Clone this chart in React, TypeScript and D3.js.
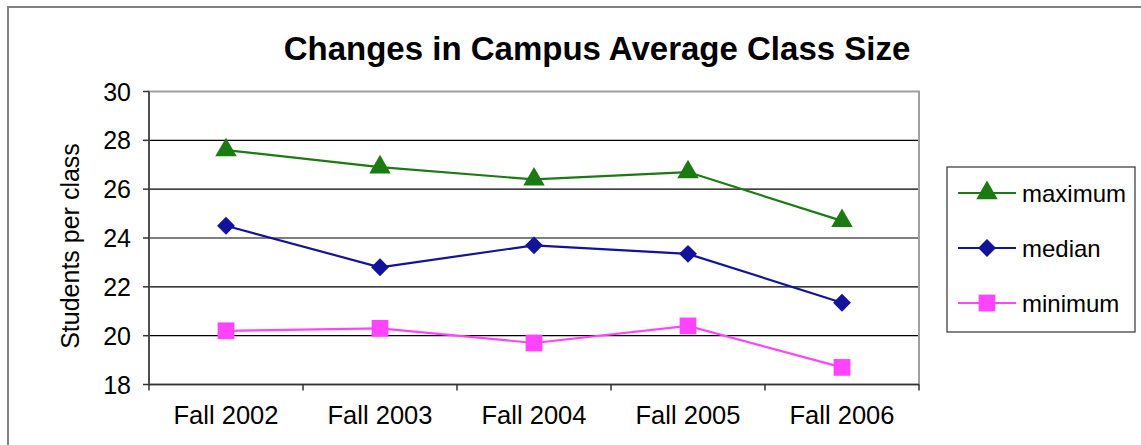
import * as d3 from "d3";

const categories = ["Fall 2002", "Fall 2003", "Fall 2004", "Fall 2005", "Fall 2006"];
const maximum = [27.6, 26.9, 26.4, 26.7, 24.7];
const median = [24.5, 22.8, 23.7, 23.35, 21.35];
const minimum = [20.2, 20.3, 19.7, 20.4, 18.7];
const yTicks = [18, 20, 22, 24, 26, 28, 30];

const seriesList = [
  { name: "maximum", values: maximum, color: "#1b7a12", symbol: d3.symbolTriangle, size: 200, rot: 0 },
  { name: "median", values: median, color: "#12129a", symbol: d3.symbolSquare, size: 160, rot: 45 },
  { name: "minimum", values: minimum, color: "#ff44ff", symbol: d3.symbolSquare, size: 280, rot: 0 }
];

export default function App() {
  const width = 1141;
  const height = 445;
  const left = 149;
  const right = 919;
  const top = 91.5;
  const bottom = 384.5;

  const x = d3.scaleBand<string>().domain(categories).range([left, right]);
  const y = d3.scaleLinear().domain([18, 30]).range([bottom, top]);
  const cx = (c: string) => (x(c) ?? 0) + x.bandwidth() / 2;

  const line = d3
    .line<number>()
    .x((_, i) => cx(categories[i]))
    .y(d => y(d));

  const font = "Arial, 'Liberation Sans', sans-serif";

  return (
    <svg
      width={width}
      height={height}
      style={{ position: "absolute", left: 0, top: 0 }}
      fontFamily={font}
    >
      {/* outer frame */}
      <rect x={8} y={7} width={1160} height={460} fill="white" stroke="#808080" strokeWidth={2} />

      <text x={597} y={60} textAnchor="middle" fontSize={33} fontWeight="bold">
        Changes in Campus Average Class Size
      </text>

      {/* grid */}
      {yTicks.slice(1, -1).map(t => (
        <line key={t} x1={left} x2={right} y1={y(t)} y2={y(t)} stroke="#000" strokeWidth={1.2} />
      ))}
      <rect x={left} y={top} width={right - left} height={bottom - top} fill="none" stroke="#a0a0a0" strokeWidth={2} />

      {/* y axis */}
      <line x1={left} x2={left} y1={top} y2={bottom} stroke="#333" strokeWidth={1.5} />
      {yTicks.map(t => (
        <g key={t}>
          <line x1={left - 6} x2={left} y1={y(t)} y2={y(t)} stroke="#333" strokeWidth={1.5} />
          <text x={131} y={y(t)} dy="0.36em" textAnchor="end" fontSize={25}>
            {t}
          </text>
        </g>
      ))}
      <text
        transform={`translate(79,246) rotate(-90)`}
        textAnchor="middle"
        fontSize={25}
      >
        Students per class
      </text>

      {/* x axis */}
      <line x1={left} x2={right} y1={bottom} y2={bottom} stroke="#333" strokeWidth={1.5} />
      {d3.range(categories.length + 1).map(i => {
        const xx = left + i * x.step();
        return <line key={i} x1={xx} x2={xx} y1={bottom} y2={bottom + 6} stroke="#333" strokeWidth={1.5} />;
      })}
      {categories.map(c => (
        <text key={c} x={cx(c)} y={424} textAnchor="middle" fontSize={25.5}>
          {c}
        </text>
      ))}

      {/* series */}
      {seriesList.map(s => (
        <g key={s.name}>
          <path d={line(s.values) ?? undefined} fill="none" stroke={s.color} strokeWidth={2.2} />
          {s.values.map((v, i) => (
            <path
              key={i}
              d={d3.symbol().type(s.symbol).size(s.size)() ?? undefined}
              transform={`translate(${cx(categories[i])},${y(v)}) rotate(${s.rot})`}
              fill={s.color}
            />
          ))}
        </g>
      ))}

      {/* legend */}
      <rect x={947} y={167} width={188} height={165} fill="white" stroke="#333" strokeWidth={1.2} />
      {seriesList.map((s, i) => {
        const ly = 193 + i * 55;
        return (
          <g key={s.name}>
            <line x1={958} x2={1016} y1={ly} y2={ly} stroke={s.color} strokeWidth={2.2} />
            <path
              d={d3.symbol().type(s.symbol).size(s.size)() ?? undefined}
              transform={`translate(987,${ly}) rotate(${s.rot})`}
              fill={s.color}
            />
            <text x={1022} y={ly} dy="0.36em" fontSize={24}>
              {s.name}
            </text>
          </g>
        );
      })}
    </svg>
  );
}
